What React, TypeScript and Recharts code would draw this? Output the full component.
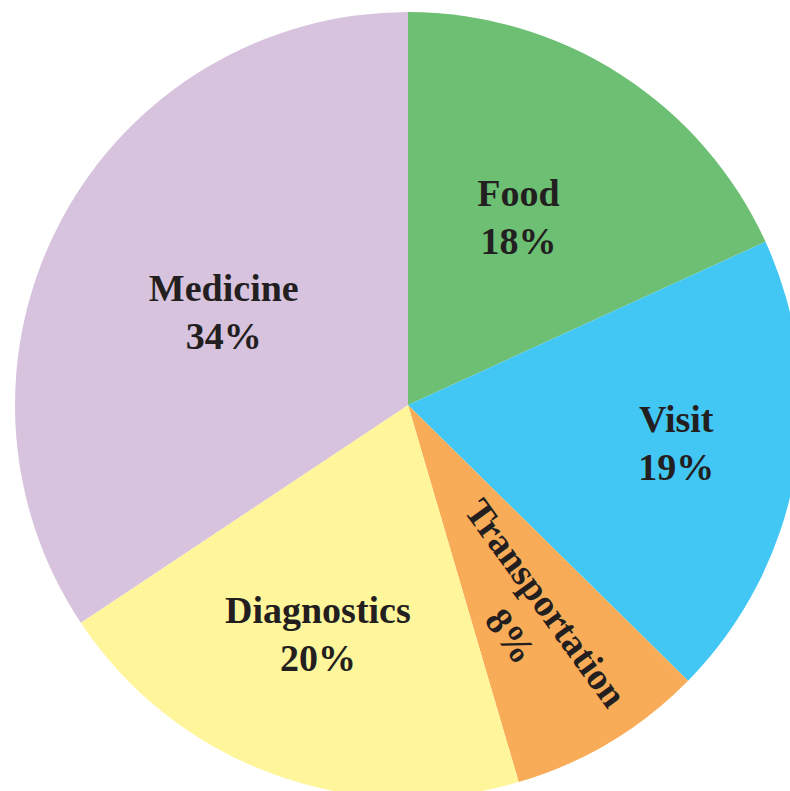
import { PieChart, Pie, Cell } from "recharts";

const categories = ["Food", "Visit", "Transportation", "Diagnostics", "Medicine"];
const shares = [18, 19, 8, 20, 34];
const colors = ["#6CBF73", "#42C6F3", "#F9AC57", "#FFF59B", "#D8C3DF"];

const data = categories.map((name, i) => ({ name, value: shares[i] }));

const RADIAN = Math.PI / 180;

// where each label sits: distance from centre and a small angle nudge
const placement: Record<string, { r: number; da: number; rotate?: number }> = {
  Food: { r: 218, da: 2.3 },
  Visit: { r: 271, da: 1.8 },
  Transportation: { r: 243, da: -1.8, rotate: 54 },
  Diagnostics: { r: 247, da: -1.4 },
  Medicine: { r: 206, da: 1.6 },
};

const textStyle = {
  fontFamily: "'Liberation Serif', 'Times New Roman', serif",
  fontWeight: 700,
  fontSize: 38,
  fill: "#231F20",
};

function renderLabel(props: any) {
  const { cx, cy, midAngle, name, value } = props;
  const p = placement[name] ?? { r: 230, da: 0 };
  const a = -(midAngle + p.da) * RADIAN;
  const x = cx + p.r * Math.cos(a);
  const y = cy + p.r * Math.sin(a);
  return (
    <g transform={`translate(${x},${y}) rotate(${p.rotate ?? 0})`}>
      <text x={0} y={-11.5} textAnchor="middle" {...textStyle}>
        {name}
      </text>
      <text x={p.rotate ? 6 : 0} y={36.5} textAnchor="middle" {...textStyle}>
        {`${value}%`}
      </text>
    </g>
  );
}

export default function App() {
  return (
    <div style={{ position: "absolute", left: 0, top: 0, width: 790, height: 791, background: "#fff" }}>
      <PieChart width={790} height={791} margin={{ top: 0, right: 0, bottom: 0, left: 0 }}>
        <Pie
          data={data}
          dataKey="value"
          nameKey="name"
          cx={408}
          cy={405}
          outerRadius={393}
          startAngle={90}
          endAngle={-270}
          stroke="none"
          label={renderLabel}
          labelLine={false}
          isAnimationActive={false}
        >
          {data.map((d, i) => (
            <Cell key={d.name} fill={colors[i]} />
          ))}
        </Pie>
      </PieChart>
    </div>
  );
}
